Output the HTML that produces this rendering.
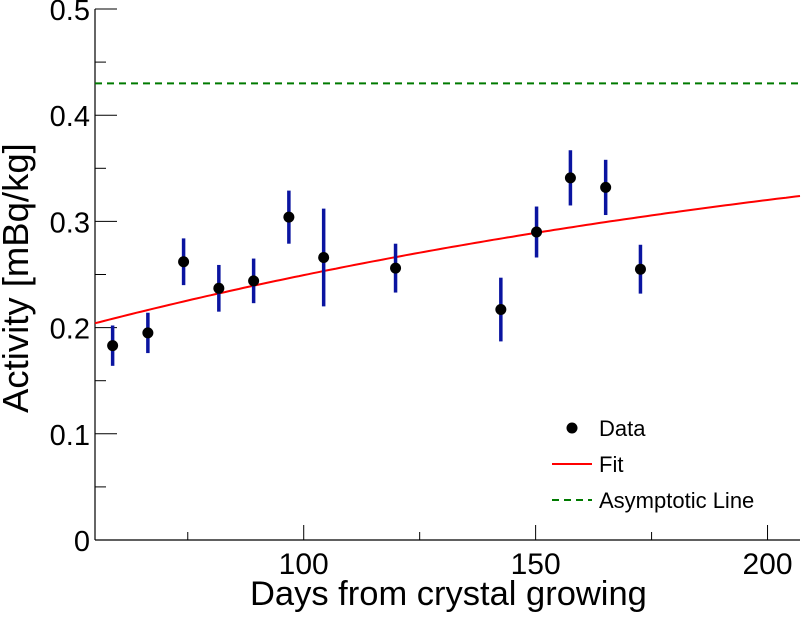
<!DOCTYPE html>
<html><head><meta charset="utf-8"><style>
body{margin:0;background:#fff;}
svg text{font-family:"Liberation Sans",sans-serif;fill:#000;}
</style></head><body>
<svg id="chart" width="801" height="614" xmlns="http://www.w3.org/2000/svg"></svg>
<script>
const days=[58.8,66.4,74.1,81.7,89.2,96.8,104.3,119.8,142.5,150.2,157.5,165.1,172.6];
const activity=[0.183,0.195,0.262,0.237,0.244,0.304,0.266,0.256,0.217,0.290,0.341,0.332,0.255];
const errors=[0.019,0.019,0.022,0.022,0.021,0.025,0.046,0.023,0.030,0.024,0.026,0.026,0.023];
const asymptote=0.43;
const fitC=0.297;
const fitTau=201;
const xTicks=[75,100,125,150,175,200];
const xLabels=[100,150,200];
const yTicks=[0,0.05,0.1,0.15,0.2,0.25,0.3,0.35,0.4,0.45,0.5];
const yLabels=[0,0.1,0.2,0.3,0.4,0.5];

const X0=95,X1=800,Y0=540,Y1=9;
const xMin=55,xMax=207,yMin=0,yMax=0.5;
const sx=v=>X0+(v-xMin)/(xMax-xMin)*(X1-X0);
const sy=v=>Y0-(v-yMin)/(yMax-yMin)*(Y0-Y1);
const svg=document.getElementById('chart');
const NS='http://www.w3.org/2000/svg';
function mk(tag,attrs,parent){const e=document.createElementNS(NS,tag);for(const k in attrs)e.setAttribute(k,attrs[k]);(parent||svg).appendChild(e);return e;}

let ax=mk('line',{x1:X0,y1:Y0,x2:X1,y2:Y0,stroke:'#000','stroke-width':1.2});


let ay=mk('line',{x1:X0,y1:Y0,x2:X0,y2:Y1,stroke:'#000','stroke-width':1.2});



xTicks.forEach(t=>{
  const major=xLabels.includes(t);
  let l=mk('line',{x1:sx(t),y1:Y0,x2:sx(t),y2:Y0-(major?15:8),stroke:'#000','stroke-width':1});
  
  
});
xLabels.forEach(t=>{
  let tx=mk('text',{x:sx(t),y:574,'font-size':30,'text-anchor':'middle'});
  tx.textContent=t;
  
  
});
yTicks.forEach(t=>{
  const major=yLabels.some(v=>Math.abs(v-t)<1e-9);
  let l=mk('line',{x1:X0,y1:sy(t),x2:X0+(major?22:11),y2:sy(t),stroke:'#000','stroke-width':1});
  
  
});
yLabels.forEach(t=>{
  let tx=mk('text',{x:90,y:sy(t)+11,'font-size':29,'text-anchor':'end'});
  tx.textContent=t;
  
  
});
let xt=mk('text',{x:250,y:605,'font-size':34.5,'text-anchor':'start'});
xt.textContent='Days from crystal growing';


let yt=mk('text',{x:0,y:0,'font-size':36.5,'text-anchor':'start',transform:'translate(28,413) rotate(-90)'});
yt.textContent='Activity [mBq/kg]';



let as=mk('line',{x1:X0,y1:sy(asymptote),x2:X1,y2:sy(asymptote),stroke:'#007a00','stroke-width':2,'stroke-dasharray':'7,5'});



let pts=[];
for(let d=xMin;d<=xMax;d+=1){pts.push(sx(d).toFixed(1)+','+sy(asymptote-fitC*Math.exp(-d/fitTau)).toFixed(1));}
let fit=mk('polyline',{points:pts.join(' '),fill:'none',stroke:'#ff0000','stroke-width':2});



days.forEach((d,i)=>{
  let eb=mk('line',{x1:sx(d),y1:sy(activity[i]-errors[i]),x2:sx(d),y2:sy(activity[i]+errors[i]),stroke:'#0a14a0','stroke-width':3.5});
  
  
  let c=mk('circle',{cx:sx(d),cy:sy(activity[i]),r:5.5,fill:'#000'});
  
  
});

const lg=mk('g',{});


let lc=mk('circle',{cx:572,cy:428,r:5.5,fill:'#000'},lg);


let lf=mk('line',{x1:552,y1:464,x2:592,y2:464,stroke:'#ff0000','stroke-width':2},lg);


let la=mk('line',{x1:552,y1:500,x2:592,y2:500,stroke:'#007a00','stroke-width':2,'stroke-dasharray':'7,5'},lg);


[['Data',428],['Fit',464],['Asymptotic Line',500]].forEach(([t,y])=>{
  let tx=mk('text',{x:599,y:y+8,'font-size':22},lg);
  tx.textContent=t;
  
  
});
</script>
</body></html>
